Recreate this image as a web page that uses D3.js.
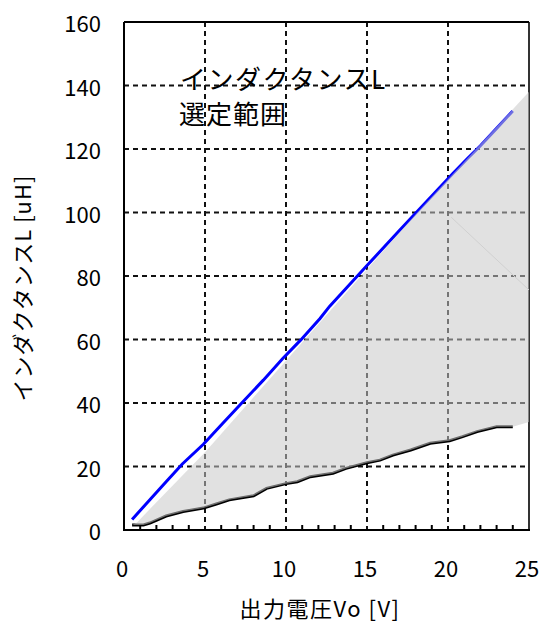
<!DOCTYPE html>
<html><head><meta charset="utf-8">
<script src="https://cdn.jsdelivr.net/npm/d3@7"></script>
<style>body{margin:0;background:#fff}svg{display:block}text{font-family:"Noto Sans CJK JP","Noto Sans",sans-serif;fill:#000}</style>
</head><body>
<script>
// ---- data ----
const xTicks = [0, 5, 10, 15, 20, 25];
const yTicks = [0, 20, 40, 60, 80, 100, 120, 140, 160];
const xMinorTicks = [1,2,3,4,6,7,8,9,11,12,13,14,16,17,18,19,21,22,23,24];
// upper limit line (blue)
const upperVo = [0.5, 1.5, 2.6, 3.6, 4.9, 6.1, 7.4, 8.6, 9.8, 10.9, 12.1, 12.7, 13.8, 15.0, 16.0, 17.0, 18.1, 19.2, 20.3, 21.2, 22.0, 23.0, 24.0];
const upperL  = [3.3, 9.0, 15.2, 20.8, 27.0, 33.6, 40.7, 47.2, 54.0, 59.8, 66.6, 70.5, 76.6, 83.3, 88.8, 94.3, 100.3, 106.3, 112.3, 117.0, 121.0, 126.5, 132.0];
// lower limit line (black)
const lowerVo = [0.5, 1.2, 1.6, 2.6, 3.65, 4.9, 5.7, 6.5, 8.0, 8.8, 10.0, 10.7, 11.5, 12.9, 13.7, 15.0, 15.8, 16.6, 17.7, 18.9, 20.1, 20.9, 21.8, 23.0, 24.0];
const lowerL  = [1.6, 1.6, 2.2, 4.4, 5.8, 6.9, 8.2, 9.5, 10.8, 13.1, 14.6, 15.2, 16.8, 17.9, 19.4, 21.2, 22.0, 23.6, 25.2, 27.3, 28.1, 29.4, 31.0, 32.5, 32.5];
// shaded selection region outline
const areaTopVo = [0.8, 5.0, 10.9, 18.1, 25.0];
const areaTopL  = [2.4, 24.5, 58.5, 100.0, 138.0];
const areaEndVo = [25.0];
const areaEndL  = [34.0];
const faintVo = [20.2, 25.0];
const faintL  = [98.5, 75.6];

const W = 542, H = 628;
const m = {l:124, r:529, t:22, b:530};
const svg = d3.select("body").append("svg").attr("width", W).attr("height", H);
const x = d3.scaleLinear().domain([0, 25]).range([m.l, m.r]);
const y = d3.scaleLinear().domain([0, 160]).range([m.b, m.t]);

// grid
const g = svg.append("g");
g.selectAll(".gx").data(xTicks.slice(1, -1)).join("line")
  .attr("x1", d => x(d)).attr("x2", d => x(d)).attr("y1", m.t).attr("y2", m.b)
  .attr("stroke", "#111").attr("stroke-width", 2).attr("stroke-dasharray", "5,4");
g.selectAll(".gy").data(yTicks.slice(1, -1)).join("line")
  .attr("x1", m.l).attr("x2", m.r).attr("y1", d => y(d)).attr("y2", d => y(d))
  .attr("stroke", "#111").attr("stroke-width", 2).attr("stroke-dasharray", "5,4");

// right border (under fill)
svg.append("line").attr("x1", m.r).attr("x2", m.r).attr("y1", m.t).attr("y2", m.b)
  .attr("stroke", "#333").attr("stroke-width", 2);

const line = d3.line().x(d => x(d[0])).y(d => y(d[1]));
const upper = upperVo.map((v, i) => [v, upperL[i]]);
const lower = lowerVo.map((v, i) => [v, lowerL[i]]);

svg.append("path").attr("d", line(upper)).attr("fill", "none")
  .attr("stroke", "#0000ff").attr("stroke-width", 3);
svg.append("path").attr("d", line(lower)).attr("fill", "none")
  .attr("stroke", "#000").attr("stroke-width", 3);

// shaded region
const poly = areaTopVo.map((v, i) => [v, areaTopL[i]])
  .concat(areaEndVo.map((v, i) => [v, areaEndL[i]]))
  .concat(lower.slice().reverse());
svg.append("path").attr("d", line(poly) + "Z")
  .attr("fill", "#c8c8c8").attr("fill-opacity", 0.55).attr("stroke", "none");
svg.append("path").attr("d", line(faintVo.map((v, i) => [v, faintL[i]])))
  .attr("fill", "none").attr("stroke", "#d0d0d0").attr("stroke-width", 1);

// frame
svg.append("line").attr("x1", m.l).attr("x2", m.r).attr("y1", m.t).attr("y2", m.t).attr("stroke", "#000").attr("stroke-width", 2);
svg.append("line").attr("x1", m.l).attr("x2", m.l).attr("y1", m.t).attr("y2", m.b + 1).attr("stroke", "#000").attr("stroke-width", 2);
svg.append("line").attr("x1", m.l - 1).attr("x2", m.r + 1).attr("y1", m.b).attr("y2", m.b).attr("stroke", "#000").attr("stroke-width", 2);

// minor ticks
svg.selectAll(".mt").data(xMinorTicks).join("line")
  .attr("x1", d => x(d)).attr("x2", d => x(d)).attr("y1", m.b).attr("y2", m.b - 5)
  .attr("stroke", "#000").attr("stroke-width", 2);

// tick labels
svg.selectAll(".xl").data(xTicks).join("text")
  .attr("x", d => x(d) - 2).attr("y", 567).attr("text-anchor", "middle")
  .attr("dominant-baseline", "central").attr("font-size", 22).text(d => d);
svg.selectAll(".yl").data(yTicks).join("text")
  .attr("x", 101).attr("y", d => y(d)).attr("text-anchor", "end")
  .attr("dominant-baseline", "central").attr("font-size", 22).text(d => d);

// annotation
svg.append("text").attr("x", 180).attr("y", 77).attr("dominant-baseline", "central")
  .attr("font-size", 26).attr("letter-spacing", 1.5).text("インダクタンスL");
svg.append("text").attr("x", 179).attr("y", 112).attr("dominant-baseline", "central")
  .attr("font-size", 26).attr("letter-spacing", 1).text("選定範囲");

// axis titles
svg.append("text").attr("transform", "translate(21,288) rotate(-90)")
  .attr("text-anchor", "middle").attr("dominant-baseline", "central")
  .attr("font-size", 22).attr("letter-spacing", 1).text("インダクタンスL [uH]");
svg.append("text").attr("x", 320).attr("y", 607).attr("text-anchor", "middle")
  .attr("dominant-baseline", "central").attr("font-size", 22).attr("letter-spacing", 1.5)
  .text("出力電圧Vo [V]");
</script>
</body></html>
